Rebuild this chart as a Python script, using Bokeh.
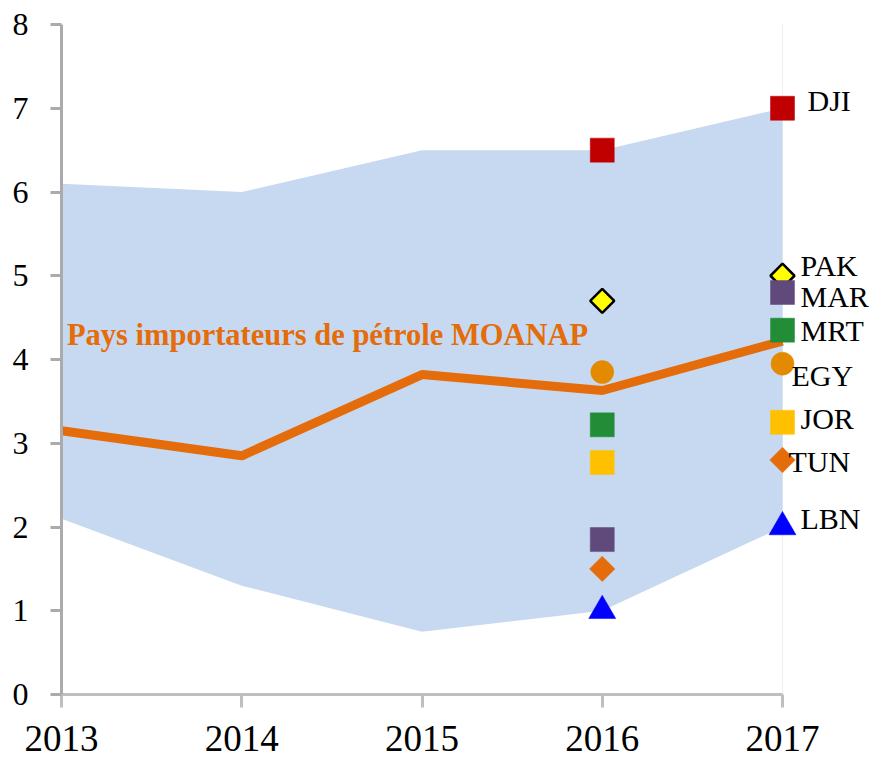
import math
from bokeh.plotting import figure
from bokeh.models import Range1d, FixedTicker, ColumnDataSource, Label
from bokeh.embed import file_html
from bokeh.resources import INLINE
from bokeh.core.properties import value

# ---- data ----
years = [2013, 2014, 2015, 2016, 2017]
band_low = [2.1, 1.3, 0.75, 1.0, 2.0]
band_high = [6.1, 6.0, 6.5, 6.5, 7.0]
moanap_avg = [3.15, 2.85, 3.82, 3.63, 4.22]

countries = ["DJI", "PAK", "MAR", "MRT", "EGY", "JOR", "TUN", "LBN"]
values_2016 = [6.5, 4.7, 1.85, 3.22, 3.85, 2.77, 1.5, 1.0]
values_2017 = [7.0, 5.0, 4.8, 4.35, 3.95, 3.25, 2.8, 2.0]

y_ticks = [0, 1, 2, 3, 4, 5, 6, 7, 8]
x_ticks = years

# ---- styles / layout ----
ORANGE = "#e46c0a"
SERIF = "Liberation Serif"
styles = {
    "DJI": dict(marker="square", color="#c00000", size=24, angle=0, lc=None, lw=0),
    "PAK": dict(marker="square", color="#ffff00", size=17, angle=math.pi / 4, lc="black", lw=2.5),
    "MAR": dict(marker="square", color="#604a7b", size=24, angle=0, lc=None, lw=0),
    "MRT": dict(marker="square", color="#238c37", size=24, angle=0, lc=None, lw=0),
    "EGY": dict(marker="circle", color="#e38a00", size=23, angle=0, lc=None, lw=0),
    "JOR": dict(marker="square", color="#ffc000", size=24, angle=0, lc=None, lw=0),
    "TUN": dict(marker="square", color=ORANGE, size=18, angle=math.pi / 4, lc=None, lw=0),
    "LBN": dict(marker="triangle", color="#0000ff", size=27, angle=0, lc=None, lw=0),
}
# label pixel offsets (x right, y down) relative to the 2017 marker
label_dx = [25, 18, 18, 18, 9, 18, 6, 18]
label_dy = [-8, -10, 4, 0, 12, -4, 1, -9]

W, H = 873, 761
LEFT, TOP, BOTTOM = 61, 24, 67
frame_w = W - LEFT
px_per_year = (782 - LEFT) / 4
x_end = 2013 + frame_w / px_per_year

p = figure(width=W, height=H, x_range=Range1d(2013, x_end), y_range=Range1d(0, 8),
           output_backend="svg", toolbar_location=None,
           min_border_left=LEFT, min_border_right=0, min_border_top=TOP,
           min_border_bottom=BOTTOM)
p.outline_line_color = None
p.xgrid.visible = False
p.ygrid.visible = False
p.background_fill_color = "white"

# faint right plot-area edge
p.segment(x0=[years[-1]], y0=[0], x1=[years[-1]], y1=[8], line_color="#eeeeee", line_width=1)

# band
p.varea(x=years, y1=band_low, y2=band_high, fill_color="#c6d9f0")

# average line
p.line(x=years, y=moanap_avg, line_color=ORANGE, line_width=9)

# country markers
for i, c in enumerate(countries):
    s = styles[c]
    p.scatter(x=[2016, 2017], y=[values_2016[i], values_2017[i]], marker=s["marker"],
              size=s["size"], angle=s["angle"], fill_color=s["color"],
              line_color=s["lc"] if s["lc"] else s["color"],
              line_width=s["lw"] if s["lw"] else 0.5)

src = ColumnDataSource(dict(x=[2017] * len(countries), y=values_2017, t=countries,
                            dx=label_dx, dy=label_dy))
p.text(x="x", y="y", text="t", x_offset="dx", y_offset="dy", source=src,
       text_font=value(SERIF), text_font_size="30px", text_color="black",
       text_align="left", text_baseline="alphabetic")

p.add_layout(Label(x=2013.03, y=4.29, text="Pays importateurs de pétrole MOANAP",
                   text_font=SERIF, text_font_style="bold", text_font_size="30.5px",
                   text_color=ORANGE, text_baseline="alphabetic"))

# axes
xa = p.xaxis[0]
xa.ticker = FixedTicker(ticks=x_ticks)
xa.bounds = (years[0], years[-1])
xa.axis_line_color = "#bfbfbf"
xa.axis_line_width = 3
xa.major_tick_line_color = "#bfbfbf"
xa.major_tick_line_width = 3
xa.major_tick_out = 13
xa.major_tick_in = 0
xa.minor_tick_line_color = None
xa.major_label_text_font = SERIF
xa.major_label_text_font_size = "37px"
xa.major_label_text_color = "black"
xa.major_label_standoff = 18

ya = p.yaxis[0]
ya.ticker = FixedTicker(ticks=y_ticks)
ya.bounds = (0, 8)
ya.axis_line_color = "#ababab"
ya.axis_line_width = 3
ya.major_tick_line_color = "#ababab"
ya.major_tick_line_width = 3
ya.major_tick_out = 11
ya.major_tick_in = 0
ya.minor_tick_line_color = None
ya.major_label_text_font = SERIF
ya.major_label_text_font_size = "32px"
ya.major_label_text_color = "black"
ya.major_label_standoff = 22

open("out.html", "w").write(file_html(p, INLINE))
